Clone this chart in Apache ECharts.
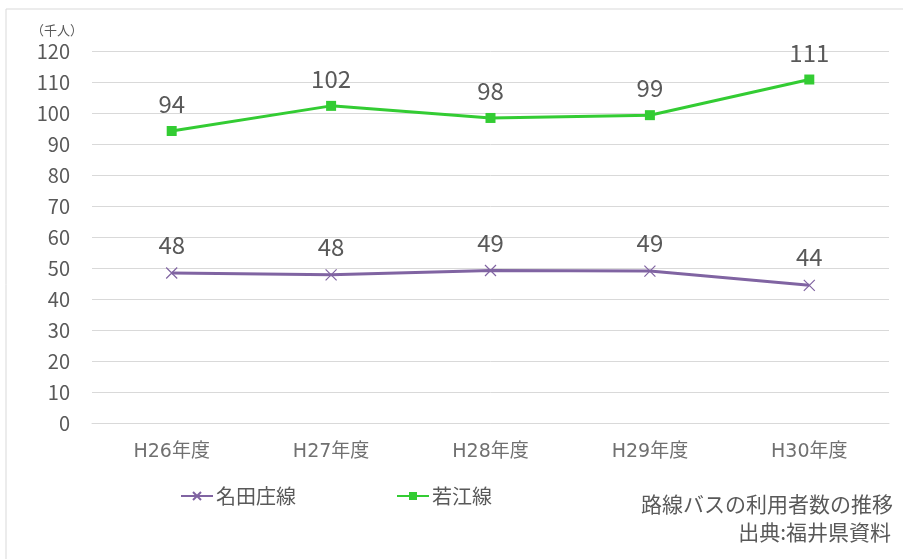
<!DOCTYPE html>
<html>
<head>
<meta charset="utf-8">
<script src="https://cdn.jsdelivr.net/npm/echarts@6/dist/echarts.min.js"></script>
<style>
  html, body { margin: 0; padding: 0; background: #fff; }
  #chart { width: 903px; height: 559px; }
</style>
</head>
<body>
<div id="chart"></div>
<script>
// 路線バスの利用者数（千人）
const categories = ["H26年度", "H27年度", "H28年度", "H29年度", "H30年度"];
const nadashoValues = [48.4, 47.8, 49.2, 49.0, 44.4];
const wakaeValues = [94.2, 102.3, 98.4, 99.3, 110.8];
const yTicks = [0, 10, 20, 30, 40, 50, 60, 70, 80, 90, 100, 110, 120];

const textFont = '"Noto Sans CJK JP", "Noto Sans", sans-serif';
const wideFont = 'Verdana, "DejaVu Sans", "Noto Sans CJK JP", sans-serif';
const gray = "#595959";

const chart = echarts.init(document.getElementById("chart"));

chart.setOption({
  backgroundColor: "#fff",
  animation: false,
  textStyle: { fontFamily: textFont },
  graphic: [
    {
      type: "rect",
      shape: { x: 6, y: 9, width: 903, height: 560 },
      style: { fill: "none", stroke: "#d9d9d9", lineWidth: 1 }
    },
    {
      type: "text",
      left: 31, top: 24,
      style: { text: "（千人）", fill: gray, font: '13px ' + textFont }
    },
    {
      type: "text",
      right: 10, top: 494,
      style: { text: "路線バスの利用者数の推移", fill: gray, font: '21px ' + textFont, align: "right" }
    },
    {
      type: "text",
      right: 12, top: 522,
      style: { text: "出典:福井県資料", fill: gray, font: '21px ' + textFont, align: "right" }
    }
  ],
  grid: { left: 92, right: 14, top: 51, bottom: 136, containLabel: false },
  legend: {
    left: 175, top: 481,
    itemGap: 100,
    itemWidth: 32, itemHeight: 10,
    textStyle: { color: gray, fontSize: 20, fontFamily: textFont, padding: [0, 0, 0, -2] },
    data: ["名田庄線", "若江線"]
  },
  xAxis: {
    type: "category",
    data: categories,
    boundaryGap: true,
    axisLine: { show: true, lineStyle: { color: "#d9d9d9" } },
    axisTick: { show: false },
    axisLabel: { color: "#707070", fontSize: 19, margin: 20, fontFamily: wideFont }
  },
  yAxis: {
    type: "value",
    min: yTicks[0],
    max: yTicks[yTicks.length - 1],
    interval: 10,
    axisLine: { show: false },
    axisTick: { show: false },
    axisLabel: { color: gray, fontSize: 20, margin: 22, fontFamily: textFont },
    splitLine: { lineStyle: { color: "#d9d9d9" } }
  },
  series: [
    {
      name: "名田庄線",
      type: "line",
      data: nadashoValues,
      symbol: "path://M0,0 L10,10 M10,0 L0,10",
      symbolSize: 11,
      itemStyle: { color: "#8064A2", borderColor: "#8064A2", borderWidth: 1.2 },
      lineStyle: { color: "#8064A2", width: 3 },
      label: {
        show: true, position: "top", distance: 10,
        color: gray, fontSize: 24, fontFamily: textFont,
        formatter: p => Math.round(p.value)
      }
    },
    {
      name: "若江線",
      type: "line",
      data: wakaeValues,
      symbol: "rect",
      symbolSize: 10,
      itemStyle: { color: "#33CC33" },
      lineStyle: { color: "#33CC33", width: 3 },
      label: {
        show: true, position: "top", distance: 10,
        color: gray, fontSize: 24, fontFamily: textFont,
        formatter: p => Math.round(p.value)
      }
    }
  ]
});
</script>
</body>
</html>
